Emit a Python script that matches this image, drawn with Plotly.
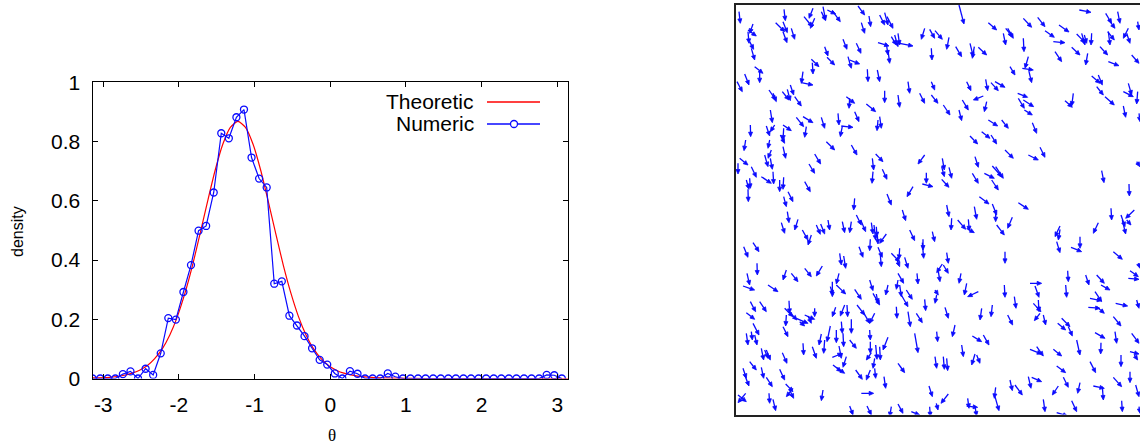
import math
import plotly.graph_objects as go

# ---------------- left panel data ----------------
theta_num = [-3.14, -3.04, -2.94, -2.84, -2.74, -2.64, -2.54, -2.44, -2.34, -2.24,
             -2.14, -2.04, -1.94, -1.84, -1.74, -1.64, -1.54, -1.44, -1.34, -1.24,
             -1.14, -1.04, -0.94, -0.84, -0.74, -0.64, -0.54, -0.44, -0.34, -0.24,
             -0.14, -0.04, 0.06, 0.16, 0.26, 0.36, 0.46, 0.56, 0.66, 0.76,
             0.86, 0.96, 1.06, 1.16, 1.26, 1.36, 1.46, 1.56, 1.66, 1.76,
             1.86, 1.96, 2.06, 2.16, 2.26, 2.36, 2.46, 2.56, 2.66, 2.76,
             2.86, 2.96, 3.06]
dens_num = [0, 0, 0, 0, 0.015, 0.024, 0.0, 0.033, 0.012, 0.085,
            0.204, 0.199, 0.292, 0.383, 0.499, 0.515, 0.628, 0.828, 0.811, 0.882,
            0.908, 0.746, 0.675, 0.645, 0.320, 0.328, 0.212, 0.179, 0.143, 0.102,
            0.063, 0.047, 0.017, 0.0, 0.025, 0.016, 0, 0, 0, 0.017,
            0.006, 0, 0, 0, 0, 0, 0, 0, 0, 0,
            0, 0, 0, 0, 0, 0, 0, 0, 0, 0,
            0.012, 0.011, 0]

theta_theo = [-3.14, -2.92, -2.72, -2.62, -2.52, -2.42, -2.32, -2.22, -2.12, -2.02,
              -1.92, -1.82, -1.72, -1.62, -1.52, -1.42, -1.32, -1.22,
              -1.12, -1.02, -0.92, -0.82, -0.72, -0.62, -0.52, -0.42, -0.32, -0.22, -0.12, -0.02,
              0.08, 0.18, 0.38, 0.58, 0.78, 1.28, 2.0, 3.14]
dens_theo = [0.002, 0.004, 0.011, 0.018, 0.028, 0.043, 0.067, 0.100, 0.147, 0.209,
             0.288, 0.382, 0.489, 0.599, 0.704, 0.791, 0.848, 0.868,
             0.848, 0.791, 0.704, 0.599, 0.489, 0.382, 0.288, 0.209, 0.147, 0.100, 0.067, 0.043,
             0.028, 0.018, 0.007, 0.003, 0.001, 0.0, 0.0, 0.0]

x_ticks = [-3, -2, -1, 0, 1, 2, 3]
x_tick_text = ["-3", "-2", "-1", "0", "1", "2", "3"]
y_ticks = [0, 0.2, 0.4, 0.6, 0.8, 1]
y_tick_text = ["0", "0.2", "0.4", "0.6", "0.8", "1"]

# ---------------- right panel data ----------------
# particle arrows, per tile: (tail_x, tail_y, head_x, head_y)
# in tile reading units (1/3 px); tile origin given in picture pixels
arrows_a = [
    (18,35,22,70),(153,28,157,62),(240,25,228,55),(213,50,238,80),(245,55,232,85),
    (270,20,278,60),(265,35,278,62),(283,30,308,42),(300,35,322,65),(375,18,395,45),
    (408,48,413,80),(385,68,395,100),(440,45,455,75),(455,38,465,75),(462,50,480,85),
    (128,68,155,95),(150,65,163,98),(150,95,162,128),(175,85,185,118),(60,72,50,100),
    (45,90,70,108),(45,95,48,130),(50,125,62,148),(55,145,65,180),(330,118,342,148),
    (370,130,384,160),(275,140,285,168),(282,172,305,195),(435,128,468,138),(460,130,465,165),
    (465,150,470,190),(475,110,490,135),(485,105,495,140),(495,100,500,135),(500,130,540,138),
    (575,85,565,118),(590,88,605,115),(595,145,597,180),(235,178,258,200),(238,188,240,222),
    (345,170,355,205),(350,180,380,192),(35,222,48,255),(12,245,28,275),(65,200,90,220),
    (80,210,80,248),(210,215,205,250),(205,248,240,255),(403,208,405,245),(433,210,440,245),
    (525,245,530,280),(455,272,455,308),(495,285,500,322),(560,280,575,310),(595,245,605,270),
    (595,285,615,310),(108,270,128,300),(120,280,130,305),(148,275,168,300),(163,268,172,302),
    (172,255,182,285),(185,290,205,318),(340,290,365,310),(350,295,348,325),(400,312,428,335),
    (112,330,118,368),(100,378,110,408),(125,375,112,395),(150,375,175,392),(152,385,150,420),
    (142,405,155,430),(190,352,212,380),(210,350,240,368),(220,380,215,412),(265,352,275,385),
    (315,340,318,375),(325,378,360,382),(328,378,322,410),(365,335,378,365),(440,350,445,385),
    (435,360,432,392),(52,375,53,410),
]
arrows_b = [
    (72,15,87,72),(433,30,468,37),(512,40,530,70),(520,58,540,85),(548,35,555,70),
    (608,65,612,90),(0,92,22,118),(160,68,185,90),(42,112,35,148),(62,140,80,170),
    (105,130,115,170),(118,140,112,175),(130,142,155,165),(205,100,212,135),(212,85,232,110),
    (218,85,235,115),(265,55,290,82),(265,115,267,155),(308,52,330,80),(330,92,358,112),
    (355,125,390,128),(372,75,402,96),(410,142,435,165),(360,155,380,185),(425,102,450,128),
    (440,100,450,135),(448,105,455,130),(470,100,468,135),(458,160,452,195),(495,140,518,165),
    (520,95,525,135),(518,95,538,120),(580,85,565,115),(575,100,585,130),(590,165,612,190),
    (520,185,552,197),(225,200,240,225),(280,170,270,205),(262,205,295,210),(282,215,290,248),
    (95,245,108,272),(152,238,158,272),(168,248,190,272),(180,245,210,262),(145,288,115,300),
    (155,305,148,335),(25,315,45,345),(82,300,100,330),(72,330,80,362),(248,280,278,292),
    (250,295,268,325),(265,300,296,320),(268,330,292,345),(390,302,412,322),(415,280,410,318),
    (470,228,495,250),(490,225,502,255),(485,260,505,285),(510,290,538,315),(565,318,572,352),
    (565,275,595,290),(580,250,590,285),(608,275,605,312),(612,340,615,365),(160,360,188,378),
    (200,360,220,385),(292,368,305,400),(105,408,128,432),(140,395,165,415),(168,405,185,432),
]
arrows_c = [
    (38,0,33,32),(110,0,105,25),(150,20,158,55),(280,5,305,30),(355,15,372,45),
    (428,42,450,65),(575,45,555,72),(245,42,263,72),(228,72,245,100),(20,55,45,75),
    (15,70,15,102),(55,80,70,112),(95,45,105,80),(115,30,105,55),(112,55,118,88),
    (85,110,115,130),(120,95,122,132),(40,120,48,148),(50,115,52,145),(45,148,46,185),
    (140,120,140,155),(152,112,150,148),(152,170,160,200),(165,155,180,185),(215,125,232,155),
    (418,55,422,90),(420,95,417,130),(448,88,462,118),(580,98,580,130),(568,132,600,140),
    (540,140,522,170),(462,162,475,195),(365,175,362,210),(508,210,518,242),(163,215,168,248),
    (145,248,155,280),(195,238,185,270),(208,270,225,300),(235,285,225,315),(250,255,262,283),
    (263,252,275,282),(285,240,290,270),(328,245,335,278),(355,245,350,278),(370,225,385,255),
    (383,240,398,275),(415,248,420,282),(423,255,428,300),(430,260,432,290),(460,282,440,310),
    (433,285,435,312),(412,298,410,332),(530,270,545,302),(570,298,570,330),(568,308,572,355),
    (598,275,605,305),(32,320,45,352),(60,308,78,335),(378,320,390,352),(435,322,448,352),
    (442,345,445,380),(475,340,500,365),(500,325,498,358),(490,355,500,380),(515,352,525,385),
    (320,340,325,375),(332,348,338,385),(72,370,73,405),(42,400,50,435),(160,390,150,420),
    (175,400,195,425),(215,385,235,410),(268,378,250,408),(318,400,310,432),(495,400,512,430),
    (552,400,555,432),
]
arrows_d = [
    (210,30,235,55),(280,45,310,60),(315,22,330,52),(22,55,28,90),(42,82,50,115),
    (20,80,28,110),(20,118,42,142),(120,50,130,82),(112,100,130,130),(148,100,178,115),
    (172,78,200,110),(182,80,205,115),(170,120,190,150),(500,92,507,128),(582,132,583,168),
    (605,65,615,80),(133,170,162,192),(250,188,280,208),(35,195,42,230),(50,235,48,270),
    (118,200,125,238),(172,192,185,225),(182,210,182,245),(68,240,92,268),(100,238,103,272),
    (95,265,118,278),(232,232,218,265),(185,255,208,285),(528,205,530,240),(598,210,572,235),
    (558,225,570,260),(562,240,572,282),(575,240,588,255),(490,248,475,280),(375,258,360,290),
    (375,268,370,300),(365,305,375,338),(435,290,435,325),(408,322,440,335),(535,335,562,358),
    (35,338,40,370),(210,335,210,370),(22,372,5,398),(25,375,40,400),(10,395,15,425),
    (78,400,72,430),(398,392,400,425),(452,405,462,435),(485,405,508,430),(585,392,610,410),
    (580,415,612,418),(610,370,615,385),
]
arrows_e = [
    (30,18,65,30),(105,15,135,35),(298,5,298,50),(292,20,300,45),(310,15,338,42),
    (365,28,385,58),(410,0,420,32),(420,40,440,75),(430,42,435,70),(465,15,458,45),
    (495,0,490,28),(500,15,505,50),(520,30,538,58),(575,58,578,92),(52,65,68,95),
    (80,65,100,95),(40,98,65,118),(155,85,180,110),(168,62,170,100),(168,95,192,120),
    (190,115,225,130),(200,125,215,138),(215,105,245,118),(245,85,245,110),(225,108,235,130),
    (160,105,158,138),(150,140,165,170),(308,82,298,110),(335,75,322,108),(342,75,344,110),
    (372,75,395,105),(390,95,410,130),(425,100,410,130),(490,80,492,115),(505,45,525,80),
    (525,95,532,140),(550,100,568,128),(60,130,78,165),(65,165,72,195),(55,155,58,180),
    (40,160,45,195),(292,138,282,185),(310,150,310,188),(325,125,328,160),(330,160,332,200),
    (355,118,355,160),(350,180,370,205),(265,162,258,195),(275,180,272,220),(410,150,412,180),
    (412,185,412,220),(428,195,432,238),(440,200,442,240),(465,172,450,210),(415,218,400,240),
    (425,235,420,265),(545,160,555,218),(85,205,92,240),(100,210,112,240),(95,210,105,235),
    (148,218,162,250),(210,190,212,225),(238,200,250,235),(318,198,325,235),(298,232,328,220),
    (340,230,330,262),(50,245,70,270),(85,262,92,295),(30,265,40,295),(35,285,48,318),
    (300,255,325,275),(310,262,335,280),(368,270,388,298),(412,270,400,300),(425,265,428,295),
    (453,290,458,325),(495,250,515,278),(140,268,155,300),(100,292,118,320),(108,340,110,370),
    (158,312,180,335),(180,325,160,350),(170,330,182,355),(120,358,128,392),(38,340,15,368),
    (15,345,40,365),(270,330,265,362),(385,340,422,340),(588,318,598,350),(350,378,360,405),
    (402,378,415,405),(475,380,470,410),(495,372,510,400),(535,395,560,405),(590,380,592,410),
    (610,370,615,390),
]
arrows_f = [
    (95,10,88,45),(130,35,98,50),(0,30,10,45),(5,45,0,70),(208,15,210,52),
    (238,50,243,85),(285,10,320,10),(300,18,312,52),(310,60,312,95),(295,70,318,95),
    (315,100,298,122),(392,15,395,52),(498,15,525,30),(480,35,500,65),(465,55,500,62),
    (485,80,508,100),(460,82,495,85),(542,70,578,78),(605,60,612,85),(30,82,40,115),
    (140,85,135,120),(172,75,168,110),(218,105,233,135),(325,105,332,135),(368,130,392,150),
    (380,115,405,140),(400,140,412,168),(535,110,558,138),(60,135,52,170),(5,155,8,185),
    (112,168,140,185),(145,165,162,195),(480,158,510,175),(540,155,545,190),(590,160,612,190),
    (425,180,435,225),(498,188,497,222),(80,195,85,230),(120,222,110,255),(125,225,135,250),
    (285,208,320,222),(305,200,325,228),(355,208,380,228),(558,225,558,260),(585,215,612,222),
    (598,225,608,240),(0,230,5,265),(25,230,28,268),(35,235,38,272),(465,245,482,278),
    (365,258,392,278),(585,275,585,308),(225,300,232,332),(240,315,262,345),(280,290,288,325),
    (290,292,320,305),(385,292,400,322),(435,308,428,340),(370,318,352,345),(475,318,508,325),
    (502,320,505,360),(535,292,560,320),(602,315,612,350),(40,342,18,370),(182,322,178,355),
    (180,350,192,392),(95,378,128,382),(98,355,102,385),(120,380,125,408),(325,358,330,395),
    (410,362,425,395),(365,398,398,408),(560,362,562,395),(612,380,615,400),
]
tiles = [((733, 0), arrows_a), ((935, 0), arrows_b), ((733, 140), arrows_c),
         ((935, 140), arrows_d), ((733, 280), arrows_e), ((935, 280), arrows_f)]

# ---------------- figure ----------------
W, H = 1140, 445
FONT = "Liberation Sans, Arial, sans-serif"
BLUE = "rgb(10,10,255)"

def px_x(p):
    return p / W

def px_y(p):
    return 1 - p / H

fig = go.Figure()

fig.add_trace(go.Scatter(x=theta_theo, y=dens_theo, mode="lines",
                         line=dict(color="rgb(255,0,0)", width=1.2, shape="spline", smoothing=0.6),
                         showlegend=False, xaxis="x", yaxis="y"))
fig.add_trace(go.Scatter(x=theta_num, y=dens_num, mode="lines+markers",
                         line=dict(color=BLUE, width=1.2),
                         marker=dict(symbol="circle-open", size=7, color=BLUE, line=dict(width=1.3)),
                         showlegend=False, xaxis="x", yaxis="y"))

# arrows in box units (box origin at picture pixel (735.5, 4.5), box side 410)
BOX_X0, BOX_Y0, BOX = 735.5, 4.5, 410.0
lx, ly, hx, hy = [], [], [], []
HEAD_L, HEAD_W = 4.5, 2.0
for (ox, oy), arr in tiles:
    for (x0, y0, x1, y1) in arr:
        X0 = ox - BOX_X0 + x0 / 3.0
        Y0 = oy - BOX_Y0 + y0 / 3.0
        X1 = ox - BOX_X0 + x1 / 3.0
        Y1 = oy - BOX_Y0 + y1 / 3.0
        dx, dy = X1 - X0, Y1 - Y0
        n = math.hypot(dx, dy) or 1.0
        ux, uy = dx / n, dy / n
        bx, by = X1 - HEAD_L * ux, Y1 - HEAD_L * uy
        lx += [X0, bx, None]
        ly += [Y0, by, None]
        hx += [X1, bx - HEAD_W * uy, bx + HEAD_W * uy, X1, None]
        hy += [Y1, by + HEAD_W * ux, by - HEAD_W * ux, Y1, None]

fig.add_trace(go.Scatter(x=lx, y=ly, mode="lines", line=dict(color=BLUE, width=1.3),
                         showlegend=False, xaxis="x2", yaxis="y2", hoverinfo="skip"))
fig.add_trace(go.Scatter(x=hx, y=hy, mode="lines", fill="toself", fillcolor=BLUE,
                         line=dict(color=BLUE, width=0.8),
                         showlegend=False, xaxis="x2", yaxis="y2", hoverinfo="skip"))

axis_common = dict(showgrid=False, zeroline=False, showline=True, linecolor="black",
                   linewidth=1, mirror="ticks", ticks="inside", ticklen=5, tickwidth=1,
                   tickcolor="black", automargin=False,
                   tickfont=dict(family=FONT, size=21, color="black"))

fig.update_layout(
    width=W, height=H, autosize=False,
    margin=dict(l=0, r=0, t=0, b=0, pad=0, autoexpand=False),
    paper_bgcolor="white", plot_bgcolor="white",
    showlegend=False,
    xaxis=dict(domain=[px_x(92.5), px_x(568)], range=[-math.pi, math.pi],
               tickvals=x_ticks, ticktext=x_tick_text, ticklabelstandoff=7, **axis_common),
    yaxis=dict(domain=[px_y(378.5), px_y(82.3)], range=[0, 1],
               tickvals=y_ticks, ticktext=y_tick_text, ticklabelstandoff=7, **axis_common),
    xaxis2=dict(domain=[px_x(BOX_X0), 1.0], range=[0, W - BOX_X0], anchor="y2",
                showgrid=False, zeroline=False, showticklabels=False, ticks="", automargin=False,
                showline=True, mirror=True, linecolor="#222", linewidth=2),
    yaxis2=dict(domain=[px_y(BOX_Y0 + BOX), px_y(BOX_Y0)], range=[BOX, 0], anchor="x2",
                showgrid=False, zeroline=False, showticklabels=False, ticks="", automargin=False,
                showline=True, mirror=False, linecolor="#222", linewidth=2),
)

# axis titles
fig.add_annotation(text="density", xref="paper", yref="paper", x=px_x(17), y=px_y(232),
                   xanchor="center", yanchor="middle",
                   textangle=-90, showarrow=False, font=dict(family=FONT, size=16, color="black"))
fig.add_annotation(text="θ", xref="paper", yref="paper", x=px_x(332), y=px_y(435),
                   xanchor="center", yanchor="middle",
                   showarrow=False, font=dict(family="Liberation Serif, serif", size=17, color="black"))

# legend (text then sample, gnuplot style)
legend_items = [("Theoretic", "rgb(255,0,0)", False, 102), ("Numeric", BLUE, True, 124)]
for name, col, marker, yy in legend_items:
    fig.add_annotation(text=name, xref="paper", yref="paper", x=px_x(476), y=px_y(yy),
                       xanchor="right", yanchor="middle", showarrow=False,
                       font=dict(family=FONT, size=21, color="black"))
    fig.add_shape(type="line", xref="paper", yref="paper", x0=px_x(487), x1=px_x(540),
                  y0=px_y(yy), y1=px_y(yy), line=dict(color=col, width=1.3))
    if marker:
        fig.add_shape(type="circle", xref="paper", yref="paper",
                      x0=px_x(510.5), x1=px_x(517.5), y0=px_y(yy + 3.5), y1=px_y(yy - 3.5),
                      line=dict(color=col, width=1.3), fillcolor="white")

fig.write_html("out.html", config={"displayModeBar": False},
               post_script="document.body.style.margin='0';document.body.style.overflow='hidden';")
